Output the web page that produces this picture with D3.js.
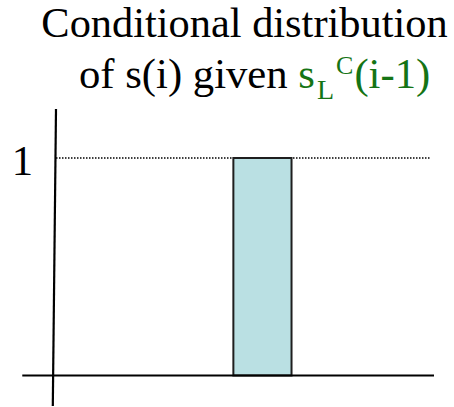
<!DOCTYPE html>
<html>
<head>
<meta charset="utf-8">
<script src="https://cdn.jsdelivr.net/npm/d3@7"></script>
<style>
  html, body { margin: 0; padding: 0; background: #fff; }
  svg { display: block; }
</style>
</head>
<body>
<svg id="chart" width="454" height="407"></svg>
<script>
// Distribution data: a single bar of probability 1 on one state interval
const barStart = [3.05];
const barEnd = [4.05];
const barValue = [1];
const yTickValues = [1];
const yTickLabels = ["1"];

const W = 454, H = 407;
const svg = d3.select("#chart");
const serif = "'Liberation Serif', 'Times New Roman', serif";

// Scales
const x = d3.scaleLinear().domain([0, 6.5]).range([56, 434]);
const y = d3.scaleLinear().domain([0, 1]).range([375.5, 158]);

// Title
const title = svg.append("text")
  .attr("font-family", serif)
  .attr("font-size", 42.4)
  .attr("fill", "#000");
title.append("tspan").attr("x", 244.5).attr("y", 36.5).attr("text-anchor", "middle")
  .text("Conditional distribution");

const line2 = svg.append("text")
  .attr("font-family", serif)
  .attr("font-size", 42.7)
  .attr("fill", "#000")
  .attr("x", 79).attr("y", 88);
line2.append("tspan").text("of s(i) given ");
const green = "#157415";
line2.append("tspan").attr("fill", green).text("s");
line2.append("tspan").attr("fill", green).attr("font-size", 28).attr("dx", 2).attr("dy", 11).text("L");
line2.append("tspan").attr("fill", green).attr("font-size", 26).attr("dx", 2).attr("dy", -25).text("C");
line2.append("tspan").attr("fill", green).attr("dx", 1).attr("dy", 14).text("(i-1)");

// Dotted reference line at the bar height
svg.append("g").selectAll("line.ref")
  .data(yTickValues)
  .join("line")
  .attr("class", "ref")
  .attr("x1", x(0)).attr("x2", 430)
  .attr("y1", d => y(d)).attr("y2", d => y(d))
  .attr("stroke", "#000")
  .attr("stroke-width", 1.6)
  .attr("stroke-dasharray", "1.5,1.5");

// Bar
svg.append("g").selectAll("rect")
  .data(barValue.map((v, i) => ({ v, a: barStart[i], b: barEnd[i] })))
  .join("rect")
  .attr("x", d => x(d.a))
  .attr("y", d => y(d.v))
  .attr("width", d => x(d.b) - x(d.a))
  .attr("height", d => y(0) - y(d.v))
  .attr("fill", "#bae0e3")
  .attr("stroke", "#1e1e1e")
  .attr("stroke-width", 2);

// X axis line
svg.append("line")
  .attr("x1", x(-0.58)).attr("x2", x(6.5))
  .attr("y1", y(0)).attr("y2", y(0))
  .attr("stroke", "#000").attr("stroke-width", 2.2);

// Y axis line (slightly leaning, as hand-placed)
svg.append("line")
  .attr("x1", x(0)).attr("y1", y(1.225))
  .attr("x2", x(0) - 3.2).attr("y2", y(-0.14))
  .attr("stroke", "#000").attr("stroke-width", 2.2);

// Y tick label
svg.append("g").selectAll("text")
  .data(yTickValues)
  .join("text")
  .attr("x", 22.5)
  .attr("y", d => y(d) + 17)
  .attr("text-anchor", "middle")
  .attr("font-family", serif)
  .attr("font-size", 42.7)
  .attr("fill", "#000")
  .text((d, i) => yTickLabels[i]);
</script>
</body>
</html>
